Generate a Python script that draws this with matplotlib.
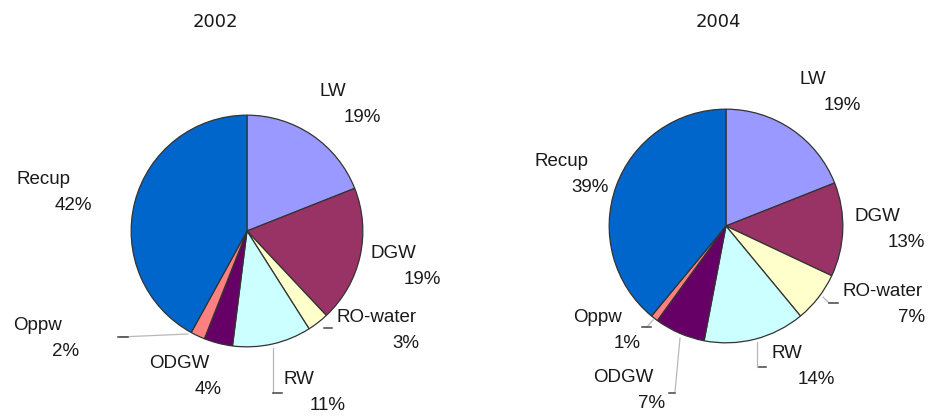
import matplotlib
matplotlib.use("Agg")
import matplotlib.pyplot as plt
from matplotlib.lines import Line2D

# Source shares (%) per year
categories = ["LW", "DGW", "RO-water", "RW", "ODGW", "Oppw", "Recup"]
shares_2002 = [19, 19, 3, 11, 4, 2, 42]
shares_2004 = [19, 13, 7, 14, 7, 1, 39]
years = ["2002", "2004"]

colors = ["#9999FF", "#993366", "#FFFFCC", "#CCFFFF", "#660066", "#FF8080", "#0066CC"]

W, H = 931, 416
fig = plt.figure(figsize=(W / 100, H / 100), dpi=100)
fig.patch.set_facecolor("white")


def fx(px):
    return px / W


def fy(py):
    return 1 - py / H


# Pie placement in pixels: centre x, centre y, radius
pie_boxes = [(247, 231, 117), (726, 226, 118)]
title_pos = [(215, 22), (718, 22)]

# Label name centres (pixels); the percentage sits below-right of the name
label_pos = [
    {"LW": (333, 91), "DGW": (393, 253), "RO-water": (377, 317), "RW": (299, 380),
     "ODGW": (179, 363), "Oppw": (37, 325), "Recup": (44, 180)},
    {"LW": (813, 80), "DGW": (877, 216), "RO-water": (883, 291), "RW": (787, 354),
     "ODGW": (623, 378), "Oppw": (598, 317), "Recup": (561, 162)},
]
pct_offset = (29, 26)

# Leader lines (pixel polylines) and the short dark ticks at their ends
leaders = [
    [[(188, 334), (120, 337)], [(273, 348), (273, 393)]],
    [[(653, 320), (647, 327)], [(680, 338), (675, 392)], [(757, 342), (757, 367)],
     [(823, 297), (829, 303)]],
]
ticks = [
    [(118, 128, 337), (273, 282, 393), (324, 332, 328)],
    [(642, 651, 327), (669, 675, 393), (759, 766, 367), (829, 838, 303)],
]

label_font = dict(family=["Liberation Sans", "DejaVu Sans"], fontsize=13.5, color="#1a1a1a")

for i, shares in enumerate([shares_2002, shares_2004]):
    cx, cy, r = pie_boxes[i]
    ax = fig.add_axes([fx(cx - r), fy(cy + r), 2 * r / W, 2 * r / H])
    ax.pie(shares, colors=colors, startangle=90, counterclock=False, radius=1,
           wedgeprops=dict(edgecolor="#333333", linewidth=0.9))
    ax.set_xlim(-1.01, 1.01)
    ax.set_ylim(-1.01, 1.01)
    ax.set_aspect("equal")
    ax.axis("off")

    tx, ty = title_pos[i]
    fig.text(fx(tx), fy(ty), years[i], ha="center", va="center",
             family="DejaVu Sans", fontsize=13, color="#1a1a1a")

    for name, val in zip(categories, shares):
        nx, ny = label_pos[i][name]
        fig.text(fx(nx), fy(ny), name, ha="center", va="center", **label_font)
        fig.text(fx(nx + pct_offset[0]), fy(ny + pct_offset[1]), f"{val}%",
                 ha="center", va="center", **label_font)

    for seg in leaders[i]:
        xs = [fx(p[0]) for p in seg]
        ys = [fy(p[1]) for p in seg]
        fig.add_artist(Line2D(xs, ys, color="#b8b8b8", linewidth=0.9))
    for x0, x1, yy in ticks[i]:
        fig.add_artist(Line2D([fx(x0), fx(x1)], [fy(yy), fy(yy)], color="#444444", linewidth=1.1))

fig.savefig("out.png", dpi=100, facecolor="white")
